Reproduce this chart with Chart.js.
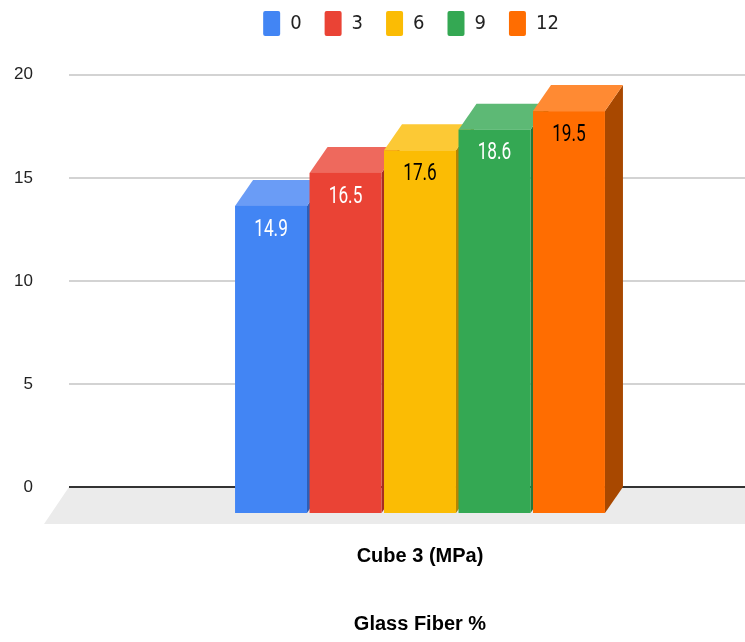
<!DOCTYPE html>
<html lang="en">
<head>
<meta charset="UTF-8" />
<title>Cube 3 (MPa) by Glass Fiber %</title>
<style>
  html, body { margin: 0; padding: 0; background: #fff; }
  #wrap { width: 745px; height: 642px; overflow: hidden; }
</style>
</head>
<body>
<div id="wrap"><canvas id="cubeChart" width="745" height="642"></canvas></div>
<script src="https://cdn.jsdelivr.net/npm/chart.js"></script>
<script>
  // data
  const categories = ['Cube 3 (MPa)'];
  const fiberLabels = ['0', '3', '6', '9', '12'];
  const strengths = [14.9, 16.5, 17.6, 18.6, 19.5];
  const yTicks = [0, 5, 10, 15, 20];

  // colours: front face, lit top, shaded side
  const frontColors = ['#4285f4', '#ea4335', '#fbbc04', '#34a853', '#ff6d01'];
  const topColors   = ['#6a9cf6', '#ee695d', '#fcc935', '#5db975', '#ff8a33'];
  const sideColors  = ['#2d5fb8', '#a62d24', '#b38603', '#24773b', '#a84800'];
  const labelColors = ['#ffffff', '#ffffff', '#000000', '#ffffff', '#000000'];

  const NARROW = '"DejaVu Sans Condensed", "Liberation Sans Narrow", Roboto, sans-serif';
  const DEPTH_X = 18, DEPTH_Y = 26;   // how far the back of each bar sits
  const FLOOR_X = 25, FLOOR_Y = 37;

  function poly(ctx, pts) {
    ctx.beginPath();
    ctx.moveTo(pts[0][0], pts[0][1]);
    for (let k = 1; k < pts.length; k++) ctx.lineTo(pts[k][0], pts[k][1]);
    ctx.closePath();
    ctx.fill();
  }

  // draws floor, gridlines and the 3D boxes from the bar elements
  const bars3d = {
    id: 'bars3d',
    afterLayout(chart) {
      // legend sits a little left of the plot centre in the original
      chart.legend.left -= 9;
      chart.legend.right -= 9;
    },
    beforeDatasetsDraw(chart) {
      const { ctx, chartArea, scales } = chart;
      const ys = scales.y;
      const zeroY = ys.getPixelForValue(0);
      const gridLeft = chartArea.left - 26;
      ctx.save();

      ctx.fillStyle = '#ebebeb';
      poly(ctx, [[gridLeft, zeroY], [chart.width, zeroY], [chart.width, zeroY + FLOOR_Y], [gridLeft - FLOOR_X, zeroY + FLOOR_Y]]);

      ys.ticks.forEach(t => {
        const py = Math.round(ys.getPixelForValue(t.value));
        ctx.strokeStyle = t.value === 0 ? '#333333' : '#d3d3d3';
        ctx.lineWidth = 2;
        ctx.beginPath();
        ctx.moveTo(gridLeft, py);
        ctx.lineTo(chart.width, py);
        ctx.stroke();
      });

      chart.data.datasets.forEach((ds, i) => {
        const bar = chart.getDatasetMeta(i).data[0];
        const { x, y, base, width } = bar.getProps(['x', 'y', 'base', 'width'], true);
        const l = x - width / 2, r = x + width / 2;
        const ft = y + DEPTH_Y, fb = base + DEPTH_Y;

        ctx.fillStyle = sideColors[i];
        poly(ctx, [[r, ft], [r + DEPTH_X, y], [r + DEPTH_X, base], [r, fb]]);
        ctx.fillStyle = topColors[i];
        poly(ctx, [[l, ft], [r, ft], [r + DEPTH_X, y], [l + DEPTH_X, y]]);
        ctx.fillStyle = frontColors[i];
        ctx.fillRect(l, ft, width, fb - ft);

        // value label, squeezed sideways like the original
        ctx.save();
        ctx.translate(x, ft + 24);
        ctx.scale(0.75, 1);
        ctx.fillStyle = labelColors[i];
        ctx.font = '23px Roboto, sans-serif';
        ctx.textAlign = 'center';
        ctx.textBaseline = 'middle';
        ctx.fillText(String(ds.data[0]), 0, 0);
        ctx.restore();
      });

      ctx.restore();
      return false;
    }
  };

  const chart = new Chart(document.getElementById('cubeChart'), {
    type: 'bar',
    data: {
      labels: categories,
      datasets: fiberLabels.map((lab, i) => ({
        label: lab,
        data: [strengths[i]],
        backgroundColor: frontColors[i],
        borderWidth: 0
      }))
    },
    options: {
      responsive: false,
      animation: false,
      categoryPercentage: 0.573,
      barPercentage: 0.966,
      layout: { padding: { top: -12, right: 0, bottom: 0, left: 0 } },
      plugins: {
        legend: {
          position: 'top',
          fullSize: false,
          labels: {
            boxWidth: 17,
            boxHeight: 25,
            useBorderRadius: true,
            borderRadius: 2,
            padding: 23,
            color: '#222',
            font: { family: NARROW, size: 20 }
          }
        },
        // empty spacer between legend and plot
        title: { display: true, text: '', weight: 500, padding: 0, font: { size: 24 } },
        tooltip: { enabled: false }
      },
      scales: {
        x: {
          afterFit: s => { s.height = 155; },
          grid: { display: false },
          border: { display: false },
          ticks: {
            padding: 49,
            color: '#000',
            font: { family: '"Liberation Sans", Arial, sans-serif', size: 20, weight: 'bold' }
          },
          title: {
            display: true,
            text: 'Glass Fiber %',
            color: '#000',
            font: { family: '"Liberation Sans", Arial, sans-serif', size: 20, weight: 'bold' },
            padding: { top: 45, bottom: 6 }
          }
        },
        y: {
          min: yTicks[0],
          max: yTicks[yTicks.length - 1],
          afterBuildTicks: s => { s.ticks = yTicks.map(v => ({ value: v })); },
          afterFit: s => { s.width = 95; },
          grid: { display: false },
          border: { display: false },
          ticks: {
            padding: 54,
            color: '#222',
            font: { family: '"Liberation Sans", Arial, sans-serif', size: 17 }
          }
        }
      }
    },
    plugins: [bars3d]
  });
</script>
</body>
</html>
